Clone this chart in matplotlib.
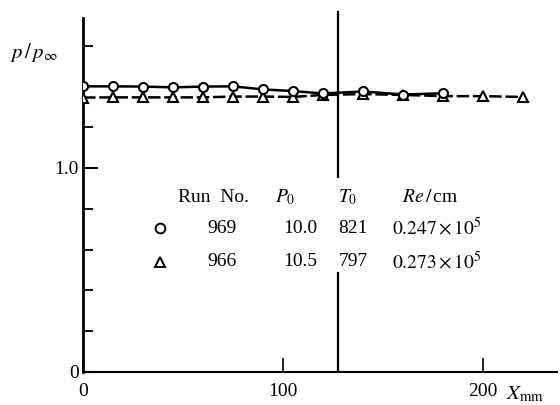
import matplotlib.pyplot as plt
from matplotlib.lines import Line2D

plt.rcParams['font.family'] = 'Liberation Serif'
plt.rcParams['mathtext.fontset'] = 'stix'

# wall station [mm] and pressure ratio p/p_inf, run 969 (circles)
x_969 = [0, 15, 30, 45, 60, 75, 90, 105, 120, 140, 160, 180]
p_969 = [1.400, 1.400, 1.399, 1.395, 1.399, 1.400, 1.385, 1.377, 1.365,
         1.375, 1.360, 1.366]
# run 966 (triangles)
x_966 = [0, 15, 30, 45, 60, 75, 90, 105, 120, 140, 160, 180, 200, 220]
p_966 = [1.345, 1.346, 1.346, 1.346, 1.346, 1.350, 1.350, 1.348, 1.358,
         1.362, 1.358, 1.352, 1.352, 1.348]

x_line = 127.5          # vertical reference station [mm]

run_no = ['969', '966']
p0 = ['10.0', '10.5']
t0 = ['821', '797']
re_cm = [r'$0.247\times10^{5}$', r'$0.273\times10^{5}$']
run_marker = ['o', '^']

W, H = 560, 405
fig = plt.figure(figsize=(W / 100, H / 100), dpi=100)
ax = fig.add_axes([83 / W, 1 - 372 / H, 474 / W, 354 / H])
ax.set_xlim(0, 237)
ax.set_ylim(0, 1.735)


def px(x, y):
    # pixel position -> figure fraction
    return x / W, 1 - y / H


ax.plot(x_969, p_969, color='k', lw=1.8, marker='o', ms=6.5, mfc='white',
        mec='k', mew=1.5, zorder=4)
ax.plot(x_966, p_966, color='k', lw=1.8, ls=(0, (5, 1.5)), marker='^', ms=6.5,
        mfc='white', mec='k', mew=1.5, zorder=3)

# vertical line, broken where the run table sits
ax.plot([x_line, x_line], [0, 0.485], color='k', lw=1.6, zorder=2)
ax.plot([x_line, x_line], [0.955, 1.765], color='k', lw=1.6, zorder=2,
        clip_on=False)

for s in ['top', 'right']:
    ax.spines[s].set_visible(False)
ax.spines['left'].set_linewidth(2)
ax.spines['bottom'].set_linewidth(1.5)

ax.set_yticks([0, 1.0])
ax.set_yticklabels(['0', '1.0'])
ax.set_yticks([0.2, 0.4, 0.6, 0.8, 1.2, 1.4, 1.6], minor=True)
ax.tick_params(axis='y', which='major', direction='in', length=11, width=1.5,
               pad=3, labelsize=14)
ax.tick_params(axis='y', which='minor', direction='in', length=7.5, width=1.3)
ax.set_xticks([0, 100, 200])
ax.set_xticklabels(['0', '100', '200'])
ax.tick_params(axis='x', which='major', direction='in', length=10, width=1.2,
               pad=8, labelsize=14)

fig.text(*px(10, 53), r'$p\,/\,p_{\infty}$', fontsize=15, ha='left', va='center')
fig.text(*px(506, 394), r'$X_{\rm mm}$', fontsize=15, ha='left', va='center')

# run table
hy, r1, r2 = 197, 228, 262
fig.text(*px(178, hy), 'Run  No.', fontsize=14, ha='left', va='center')
fig.text(*px(275, hy), r'$P_0$', fontsize=14, ha='left', va='center')
fig.text(*px(338, hy), r'$T_0$', fontsize=14, ha='left', va='center')
fig.text(*px(402, hy), r'$\mathbf{\mathit{Re}}\,/\,$cm', fontsize=14,
         ha='left', va='center')
for i, yy in enumerate([r1, r2]):
    fx, fy = px(160, yy)
    fig.add_artist(Line2D([fx], [fy], marker=run_marker[i], ms=7, mfc='white',
                          mec='k', mew=1.4, ls='none'))
    fig.text(*px(222, yy), run_no[i], fontsize=14, ha='center', va='center')
    fig.text(*px(300, yy), p0[i], fontsize=14, ha='center', va='center')
    fig.text(*px(353, yy), t0[i], fontsize=14, ha='center', va='center')
    fig.text(*px(392, yy), re_cm[i], fontsize=14, ha='left', va='center')

fig.savefig('out.png', dpi=100)
